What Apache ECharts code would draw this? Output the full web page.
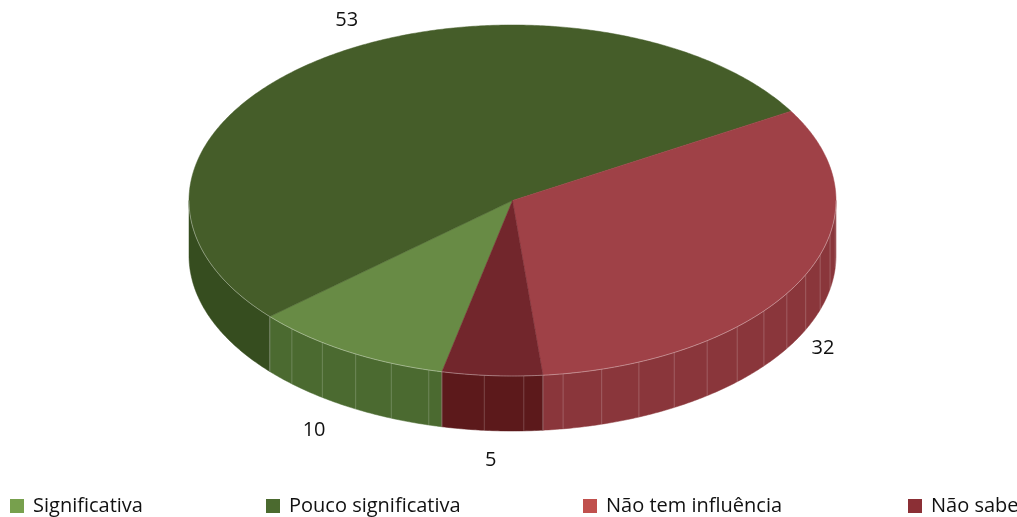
<!DOCTYPE html>
<html>
<head>
<meta charset="utf-8">
<script src="https://cdn.jsdelivr.net/npm/echarts@6/dist/echarts.min.js"></script>
<style>
  html, body { margin: 0; padding: 0; background: #ffffff; }
  #chart { width: 1017px; height: 517px; }
</style>
</head>
<body>
<div id="chart"></div>
<script>
// Answer categories and their shares (%)
const categories = ['Significativa', 'Pouco significativa', 'Não tem influência', 'Não sabe'];
const values = [10, 53, 32, 5];

// Base (legend) colours, lit top faces and shaded side walls
const baseColors = ['#77a04d', '#4b6a2f', '#c0504d', '#8b2f35'];
const topColors  = ['#688b45', '#455d29', '#9f4147', '#72262c'];
const sideColors = ['#4b6a30', '#364d1f', '#8a363b', '#5c191b'];
const wallFacets = [true, false, true, true];

// Tilted-disc geometry
const DISC = { cx: 512.5, cy: 200.5, rx: 323.5, ry: 175.5, depth: 55 };
const START_DEG = -102.6;   // where the first slice begins (maths angle), slices run clockwise
const FACET_DEG = 7;        // spacing of the vertical facet lines on the wall
const LABEL_PAD = { x: 25, y: 30 };
// small hand adjustments of some value labels, keyed by category
const LABEL_NUDGE = { 'Significativa': [-21, -2], 'Pouco significativa': [39, -14] };
const FONT = '"Open Sans", "DejaVu Sans", sans-serif';

const total = values.reduce((a, b) => a + b, 0);
const rad = d => d * Math.PI / 180;
const topPt = t => [DISC.cx + DISC.rx * Math.cos(rad(t)), DISC.cy - DISC.ry * Math.sin(rad(t))];
const botPt = t => { const p = topPt(t); return [p[0], p[1] + DISC.depth]; };

function sliceRange(i) {
  let before = 0;
  for (let k = 0; k < i; k++) before += values[k];
  const a0 = START_DEG - before / total * 360;
  const a1 = a0 - values[i] / total * 360;
  return [a1, a0];
}

// parts of [lo, hi] that face the viewer (lower half of the disc)
function frontIntervals(lo, hi) {
  const out = [];
  for (let k = -3; k <= 2; k++) {
    const fLo = -180 + 360 * k, fHi = 360 * k;
    const a = Math.max(lo, fLo), b = Math.min(hi, fHi);
    if (b - a > 1e-6) out.push([a, b]);
  }
  return out;
}

function arcPoints(from, to, fn) {
  const n = Math.max(2, Math.ceil(Math.abs(to - from) / 0.5));
  const pts = [];
  for (let j = 0; j <= n; j++) pts.push(fn(from + (to - from) * j / n));
  return pts;
}

function renderSlice(i, params, api) {
  const v = api.value(0);
  const [a1, a0] = sliceRange(i);
  const children = [];

  // top face
  const topPoly = [[DISC.cx, DISC.cy]].concat(arcPoints(a0, a1, topPt));
  children.push({ type: 'polygon', z2: 10, shape: { points: topPoly },
    style: { fill: topColors[i], stroke: topColors[i], lineWidth: 0.5 } });

  // visible outer wall
  frontIntervals(a1, a0).forEach(([lo, hi]) => {
    const pts = arcPoints(hi, lo, topPt).concat(arcPoints(lo, hi, botPt));
    children.push({ type: 'polygon', z2: 2, shape: { points: pts },
      style: { fill: sideColors[i], stroke: sideColors[i], lineWidth: 0.5 } });
    // facet lines
    if (wallFacets[i]) {
      const first = Math.ceil(lo / FACET_DEG) * FACET_DEG;
      for (let t = first; t <= hi; t += FACET_DEG) {
        if (t - lo < 1.5 || hi - t < 1.5) continue;
        const p = topPt(t), q = botPt(t);
        children.push({ type: 'line', z2: 3,
          shape: { x1: p[0], y1: p[1], x2: q[0], y2: q[1] },
          style: { stroke: 'rgba(255,255,255,0.25)', lineWidth: 0.8 } });
      }
    }
    // slice edge on the wall
    [lo, hi].forEach(t => {
      if (Math.abs(Math.sin(rad(t))) < 1e-3) return;
      const p = topPt(t), q = botPt(t);
      children.push({ type: 'line', z2: 3,
        shape: { x1: p[0], y1: p[1], x2: q[0], y2: q[1] },
        style: { stroke: 'rgba(255,255,255,0.22)', lineWidth: 0.8 } });
    });
    // light rim where top meets wall
    children.push({ type: 'polyline', z2: 12, shape: { points: arcPoints(lo, hi, topPt) },
      style: { fill: null, stroke: 'rgba(255,255,255,0.45)', lineWidth: 0.8 } });
  });

  // value label
  const m = (a0 + a1) / 2;
  const c = Math.cos(rad(m)), s = Math.sin(rad(m));
  const nudge = LABEL_NUDGE[categories[i]] || [0, 0];
  const lx = DISC.cx + (DISC.rx + LABEL_PAD.x) * c + nudge[0];
  const ly = DISC.cy - (DISC.ry + LABEL_PAD.y) * s + (s < 0 ? DISC.depth : 0) + nudge[1];
  children.push({ type: 'text', z2: 20, x: lx, y: ly,
    style: { text: String(v), fill: '#111', fontSize: 20, fontFamily: FONT,
             align: 'center', verticalAlign: 'middle' } });

  return { type: 'group', children };
}

const legendLeft = [10, 266, 583, 908];

const option = {
  animation: false,
  backgroundColor: '#ffffff',
  legend: categories.map((name, i) => ({
    data: [name],
    left: legendLeft[i],
    top: 496,
    padding: 0,
    icon: 'rect',
    itemWidth: 14,
    itemHeight: 14,
    itemGap: 0,
    selectedMode: false,
    textStyle: { fontSize: 20, color: '#111', fontFamily: FONT, padding: [3, 0, 0, 4] }
  })),
  series: categories.map((name, i) => ({
    type: 'custom',
    name: name,
    coordinateSystem: 'none',
    itemStyle: { color: baseColors[i] },
    data: [[values[i]]],
    renderItem: (params, api) => renderSlice(i, params, api)
  }))
};

const chart = echarts.init(document.getElementById('chart'), null, { renderer: 'canvas' });
chart.setOption(option);
</script>
</body>
</html>
